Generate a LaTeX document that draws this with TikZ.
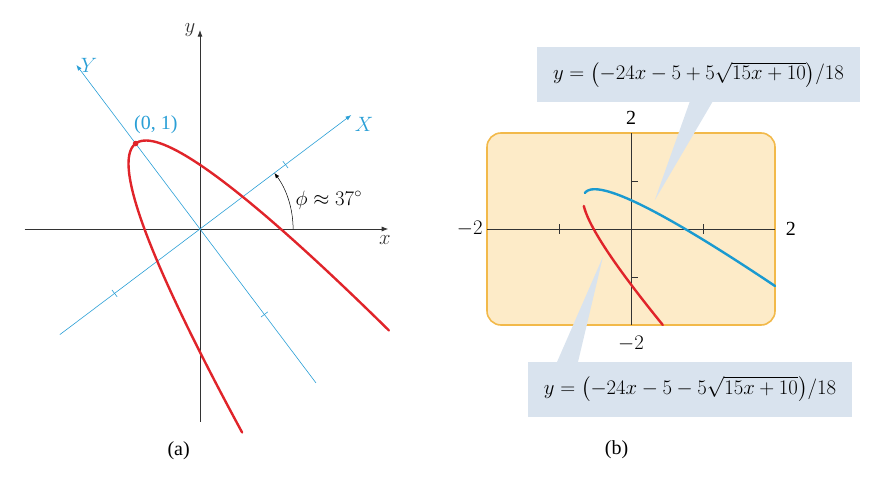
\documentclass[tikz,border=0pt]{standalone}
\usepackage{fontspec}
\setmainfont{Liberation Serif}
\usepackage{amsmath}
\usetikzlibrary{arrows.meta,positioning}
\tikzset{>=Latex}
\usepackage{xcolor}
\definecolor{axcol}{HTML}{2A9FD6}
\definecolor{redc}{HTML}{E0242A}
\definecolor{bluec}{HTML}{1A9AD0}
\definecolor{calloutc}{HTML}{D9E3EE}
\definecolor{screenc}{HTML}{FDEBC8}
\definecolor{screenb}{HTML}{F2B94A}
\tikzstyle{axis}=[->,line width=0.8pt,black!80]
\tikzstyle{raxis}=[->,line width=0.6pt,axcol]
\tikzstyle{curve}=[line width=2.4pt,line cap=round]
\tikzstyle{callout}=[fill=calloutc,inner xsep=8pt,inner ysep=7pt]

\begin{document}
\begin{tikzpicture}[x=1pt,y=-1pt]
  \tikzstyle{every node}=[font=\fontsize{20}{24}\selectfont]
  \useasboundingbox (0,0) rectangle (886,489);
  \def\ang{37}

  % (a)
  \begin{scope}[shift={(200,229)},x=107pt,y=107pt]
    \draw[axis] (-1.64,0) -- (1.76,0) node[below left=3pt and -6pt] {$x$};
    \draw[axis] (0,-1.8) -- (0,1.86) node[left=1pt] {$y$};
    \begin{scope}[rotate=\ang]
      \draw[raxis] (-1.64,0) -- (1.77,0) node[below right=-1pt and 0pt,axcol] {$X$};
      \draw[raxis] (0,-1.8) -- (0,1.92) node[right=1pt,axcol] {$Y$};
      \foreach \t in {-1,1} {
        \draw[axcol,line width=0.6pt] (\t,-0.04) -- (\t,0.04);
        \draw[axcol,line width=0.6pt] (-0.04,\t) -- (0.04,\t);
      }
      \draw[curve,redc,samples=80,domain=-0.83:0.84] plot ({\x},{1-4*\x*\x});
      \fill[redc] (0,1) circle (2.8pt);
      \node[axcol,above right=6pt and -5pt] (V) at (0,1) {(0, 1)};
    \end{scope}
    \draw[->,line width=0.5pt] (0.87,0) arc[start angle=0, end angle=\ang, radius=0.87];
    \node[anchor=west] (phi) at (0.86,0.27) {$\phi \approx 37^\circ$};
    \node (la) at (-0.2,-2.07) {(a)};
  \end{scope}

  % (b)
  \begin{scope}[shift={(631,229)},x=72pt,y=48pt]
    \draw[screenb,fill=screenc,line width=1.6pt,rounded corners=14pt] (-2,-2) rectangle (2,2);
    \draw[black!80,line width=0.6pt] (-2,0) -- (2,0) (0,-2) -- (0,2);
    \foreach \t in {-1,1} {
      \draw[black!80,line width=0.6pt] (\t,-0.1) -- (\t,0.1);
      \draw[black!80,line width=0.6pt] (0,\t) -- (0.1,\t);
    }
    \draw[curve,bluec,samples=100,domain=0.625:6.325]
      plot ({(\x*\x-10)/15},{(-24*(\x*\x-10)/15-5+5*\x)/18});
    \draw[curve,redc,samples=80,domain=0.416:4.078]
      plot ({(\x*\x-10)/15},{(-24*(\x*\x-10)/15-5-5*\x)/18});
    \node (t2) at (0,2.32) {2};
    \node (b2) at (0,-2.38) {$-2$};
    \node (l2) at (-2.24,0) {$-2$};
    \node (r2) at (2.22,0) {2};
    \coordinate (tipP) at (0.33,0.6);
    \coordinate (tipM) at (-0.39,-0.58);
    \node (lb) at (-0.2,-4.6) {(b)};
  \end{scope}

  \node[callout,minimum width=323pt,minimum height=55pt] (eqP) at (698.5,74.5)
    {$y = \bigl(-24x - 5 + 5\sqrt{15x + 10}\bigr)/18$};
  \node[callout,minimum width=324pt,minimum height=55pt] (eqM) at (690,389)
    {$y = \bigl(-24x - 5 - 5\sqrt{15x + 10}\bigr)/18$};
  \fill[calloutc] (690,101) -- (tipP) -- (713,101) -- cycle;
  \fill[calloutc] (557,362) -- (tipM) -- (578,362) -- cycle;
\end{tikzpicture}
\end{document}
